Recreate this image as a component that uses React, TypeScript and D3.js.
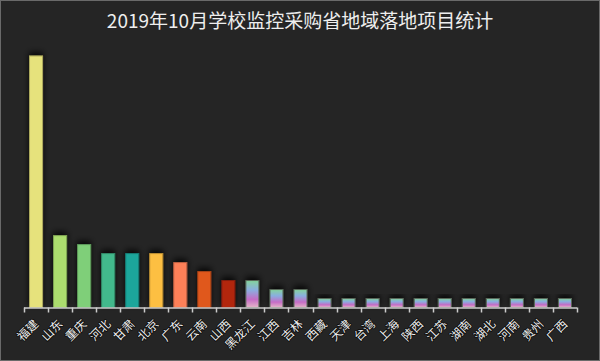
import React from 'react';
import * as d3 from 'd3';

const provinces = ['福建', '山东', '重庆', '河北', '甘肃', '北京', '广东', '云南', '山西', '黑龙江', '江西', '吉林', '西藏', '天津', '台湾', '上海', '陕西', '江苏', '湖南', '湖北', '河南', '贵州', '广西'];
const projectCounts = [28, 8, 7, 6, 6, 6, 5, 4, 3, 3, 2, 2, 1, 1, 1, 1, 1, 1, 1, 1, 1, 1, 1];
const barColors = ['#e6e27c', '#acdd6e', '#7fcf79', '#42b98c', '#1ba69b', '#fdbf42', '#fd8058', '#e0591d', '#b22710'];
const title = '2019年10月学校监控采购省地域落地项目统计';

const W = 600;
const H = 361;
const margin = { left: 24, right: 23, top: 38, bottom: 53.5 };

export default function App() {
  const x = d3.scaleBand().domain(provinces).range([margin.left, W - margin.right]);
  const y = d3.scaleLinear().domain([0, 30]).range([H - margin.bottom, margin.top]);
  const barW = 13;
  const base = y(0);
  const ticks = d3.range(provinces.length + 1).map((i) => margin.left + i * x.step());

  return (
    <svg width={W} height={H} style={{ display: 'block', position: 'absolute', left: 0, top: 0 }}>
      <defs>
        <linearGradient id="smallGrad" x1="0" y1="0" x2="0" y2="1">
          <stop offset="0" stopColor="#84d49c" />
          <stop offset="0.35" stopColor="#8aaee0" />
          <stop offset="0.7" stopColor="#c56cc6" />
          <stop offset="1" stopColor="#e4b6c6" />
        </linearGradient>
        <filter id="shadow" x="-50%" y="-50%" width="200%" height="200%">
          <feDropShadow dx="0" dy="-3" stdDeviation="3" floodColor="#000" floodOpacity="0.85" />
        </filter>
      </defs>
      <rect x={0.5} y={0.5} width={W - 1} height={H - 1} fill="#252525" stroke="#6a6a6a" strokeWidth={1} />
      <text x={W / 2} y={28} textAnchor="middle" fill="#eeeeee" fontSize={19}
        fontFamily="'Noto Sans CJK SC', 'Noto Sans', sans-serif">{title}</text>
      {provinces.map((p, i) => {
        const cx = (x(p) as number) + x.bandwidth() / 2;
        const top = y(projectCounts[i]);
        const fill = i < barColors.length ? barColors[i] : 'url(#smallGrad)';
        const stroke = i < barColors.length ? d3.color(barColors[i])!.darker(0.8).formatHex() : '#5a6a5a';
        return (
          <rect key={p} x={cx - barW / 2} y={top} width={barW} height={base - top}
            fill={fill} stroke={stroke} strokeWidth={1} filter="url(#shadow)" />
        );
      })}
      <line x1={margin.left} x2={W - margin.right} y1={base + 0.5} y2={base + 0.5} stroke="#cccccc" strokeWidth={1.5} />
      {ticks.map((t, i) => (
        <line key={i} x1={Math.round(t) + 0.5} x2={Math.round(t) + 0.5} y1={base} y2={base + 5} stroke="#cccccc" strokeWidth={1.5} />
      ))}
      {provinces.map((p) => {
        const cx = (x(p) as number) + x.bandwidth() / 2;
        return (
          <text key={p} transform={`translate(${cx + 1},${base + 15}) rotate(-45)`} textAnchor="end"
            dominantBaseline="middle" fill="#eeeeee" fontSize={12} stroke="#0a0a0a" strokeWidth={1.5}
            paintOrder="stroke" strokeLinejoin="round"
            fontFamily="'Noto Sans CJK SC', 'Noto Sans', sans-serif">{p}</text>
        );
      })}
    </svg>
  );
}
